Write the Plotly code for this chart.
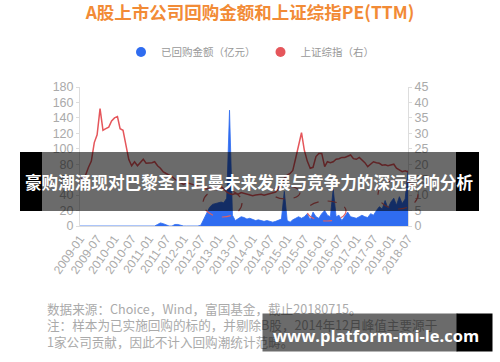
import plotly.graph_objects as go
import pandas as pd

# ---------------- data ----------------
months = pd.date_range("2009-01-01", "2018-07-01", freq="MS")

buyback = [
    0, 0, 0, 0, 0, 0, 0, 0, 0, 0, 0, 0,            # 2009
    0, 0, 0, 0, 0, 0, 0, 0, 0, 0, 0, 0,            # 2010
    0, 0, 0, 2, 4, 3, 1, 0, 0, 2, 2, 1,            # 2011
    0, 0, 0, 0, 0, 0, 1, 9, 18, 24, 28, 29,        # 2012
    30, 31, 30, 36, 150, 14, 7, 10, 12, 11, 9, 10, # 2013
    8, 7, 8, 7, 6, 7, 6, 5, 6, 7, 9, 45,           # 2014
    7, 5, 8, 10, 12, 10, 12, 16, 8, 18, 12, 10,    # 2015
    16, 20, 14, 12, 48, 12, 14, 7, 12, 18, 12, 11, # 2016
    10, 12, 14, 12, 11, 16, 14, 20, 25, 22, 33, 23,# 2017
    31, 36, 27, 38, 29, 35, 72,                    # 2018
]

pe = [
    14.5, 15.5, 16.5, 19, 21, 27, 29.5, 38, 31, 31.5, 32, 34,          # 2009
    35, 35.4, 31.5, 31, 26, 21.5, 19.5, 20.8, 19.5, 20.5, 21.6, 20.3,  # 2010
    20.3, 20.5, 20.8, 19.5, 18.7, 17.5, 17, 16.5, 16, 15.2, 14.5, 14,  # 2011
    13.5, 14, 13.8, 13.5, 13, 12.8, 12.5, 12.3, 12, 12.2, 11.8, 12.2,  # 2012
    12.5, 12.8, 12, 11, 10.5, 10.2, 10.5, 10.3, 10.8, 10.5, 10.2, 10,  # 2013
    9.8, 10, 10.2, 10.3, 10, 10.2, 10.5, 10.8, 11, 12, 13.5, 15.5,     # 2014
    16.5, 17, 18, 22, 26.5, 30.2, 24.5, 21, 18.7, 19, 22.5, 23.5,      # 2015
    23.5, 19.2, 20.8, 20.5, 20.8, 21.6, 21.8, 22.2, 22.2, 22.5, 23, 21.8,  # 2016
    21.6, 22.2, 21.4, 20.5, 19.2, 20, 20.8, 20.5, 20.3, 19.7, 19.8, 19.5,  # 2017
    19.8, 20, 18.7, 18.2, 17.6, 17.9, 17.5,                            # 2018
]

tick_labels = [
    "2009-01", "2009-07", "2010-01", "2010-07", "2011-01", "2011-07",
    "2012-01", "2012-07", "2013-01", "2013-07", "2014-01", "2014-07",
    "2015-01", "2015-07", "2016-01", "2016-07", "2017-01", "2017-07",
    "2018-01", "2018-07",
]
tick_vals = [t + "-01" for t in tick_labels]

series_names = ["已回购金额（亿元）", "上证综指（右）"]
title_text = "A股上市公司回购金额和上证综指PE(TTM)"
band_text = "豪购潮涌现对巴黎圣日耳曼未来发展与竞争力的深远影响分析"
note_lines = [
    "数据来源：Choice，Wind，富国基金，截止20180715。",
    "注：样本为已实施回购的标的，并剔除B股，2014年12月峰值主要源于",
    "1家公司贡献，因此不计入回购潮统计范畴。",
]
watermark = "www.platform-mi-le.com"

# ---------------- layout helpers ----------------
W, H = 500, 362
ML, MR, MT, MB = 80, 92, 87, 136
PW, PH = W - ML - MR, H - MT - MB


def px(x):
    return (x - ML) / PW


def py(y):
    return (H - MB - y) / PH


BLUE = "#2f6cf0"
RED = "#e5565b"
AX = "#dddddd"
TXT = "#aaaaaa"
CJK = "Noto Sans CJK SC, sans-serif"
LAT = "Liberation Sans, Noto Sans CJK SC, sans-serif"

fig = go.Figure()

fig.add_trace(go.Scatter(
    x=months, y=buyback, mode="lines", fill="tozeroy",
    line=dict(color=BLUE, width=0.8), fillcolor=BLUE,
    showlegend=False, yaxis="y", hoverinfo="skip",
))
fig.add_trace(go.Scatter(
    x=months, y=pe, mode="lines",
    line=dict(color=RED, width=1.5),
    showlegend=False, yaxis="y2", hoverinfo="skip",
))
# legend entries (circle symbols)
fig.add_trace(go.Scatter(x=[None], y=[None], mode="markers", name=series_names[0],
                         marker=dict(symbol="circle", size=10, color=BLUE)))
fig.add_trace(go.Scatter(x=[None], y=[None], mode="markers", name=series_names[1],
                         marker=dict(symbol="circle", size=10, color=RED), yaxis="y2"))

shapes = []
# dashed highlight ellipses
for (x0, x1, y0, y1) in [(203, 242, 189, 217), (272, 300, 186, 199),
                         (307, 346, 201, 221), (378, 418, 180, 209)]:
    shapes.append(dict(type="circle", xref="paper", yref="paper",
                       x0=px(x0), x1=px(x1), y0=py(y1), y1=py(y0),
                       line=dict(color="#e06060", width=1.2, dash="dash"),
                       layer="above"))
# overlay band
shapes.append(dict(type="rect", xref="paper", yref="paper",
                   x0=px(42), x1=px(456), y0=py(211), y1=py(152),
                   fillcolor="rgba(0,0,0,0.58)", line=dict(width=0), layer="above"))
for (x0, x1) in [(20, 42), (456, 479)]:
    shapes.append(dict(type="rect", xref="paper", yref="paper",
                       x0=px(x0), x1=px(x1), y0=py(211), y1=py(152),
                       fillcolor="#000000", line=dict(width=0), layer="above"))

annotations = []
annotations.append(dict(text=band_text, xref="paper", yref="paper",
                        x=px(249), y=py(182), xanchor="center", yanchor="middle",
                        showarrow=False,
                        font=dict(family=CJK, size=16.6, color="white", weight="bold")))
annotations.append(dict(text="<br>".join(note_lines), xref="paper", yref="paper",
                        x=px(46), y=py(325), xanchor="left", yanchor="middle",
                        align="left", showarrow=False, borderpad=0,
                        font=dict(family=CJK, size=12.6, color=TXT)))
# watermark boxes
annotations.append(dict(text=" ", xref="paper", yref="paper",
                        x=px(262), y=py(352), xanchor="left", yanchor="bottom",
                        width=194, height=37, bgcolor="rgba(0,0,0,0.58)",
                        borderpad=0, showarrow=False, font=dict(size=10)))
annotations.append(dict(text=" ", xref="paper", yref="paper",
                        x=px(456), y=py(352), xanchor="left", yanchor="bottom",
                        width=35, height=37, bgcolor="#000000",
                        borderpad=0, showarrow=False, font=dict(size=10)))
annotations.append(dict(text=watermark, xref="paper", yref="paper",
                        x=px(375.5), y=py(335), xanchor="center", yanchor="middle",
                        showarrow=False,
                        font=dict(family="Open Sans, DejaVu Sans, sans-serif", size=16.5,
                                  color="white", weight="bold")))

fig.update_layout(
    width=W, height=H,
    margin=dict(l=ML, r=MR, t=MT, b=MB, pad=0),
    paper_bgcolor="white", plot_bgcolor="white",
    title=dict(text=title_text, x=0.5, xref="container", xanchor="center",
               y=1 - 13 / H, yref="container", yanchor="middle",
               font=dict(family=CJK, size=17.5, color="#f28b36", weight="bold")),
    legend=dict(orientation="h", xref="container", yref="container",
                x=0.5, xanchor="center", y=1 - 52 / H, yanchor="middle",
                font=dict(family=CJK, size=10.5, color="#999999"),
                bgcolor="rgba(0,0,0,0)", itemclick=False),
    xaxis=dict(type="date", range=["2009-01-01", "2018-07-01"],
               tickmode="array", tickvals=tick_vals, ticktext=tick_labels,
               tickangle=-55, tickfont=dict(family=LAT, size=12, color=TXT),
               showline=True, linecolor=AX, linewidth=1,
               showgrid=False, zeroline=False, ticks=""),
    yaxis=dict(range=[0, 180], dtick=20, tick0=0,
               tickfont=dict(family=LAT, size=12.5, color=TXT),
               showline=True, linecolor=AX, linewidth=1,
               ticks="outside", ticklen=3, tickcolor=AX,
               showgrid=False, zeroline=False),
    yaxis2=dict(range=[0, 45], dtick=5, tick0=0, overlaying="y", side="right",
                tickfont=dict(family=LAT, size=12.5, color=TXT),
                showline=True, linecolor=AX, linewidth=1,
                ticks="outside", ticklen=3, tickcolor=AX,
                showgrid=False, zeroline=False),
    shapes=shapes,
    annotations=annotations,
)

fig.write_html("out.html")
